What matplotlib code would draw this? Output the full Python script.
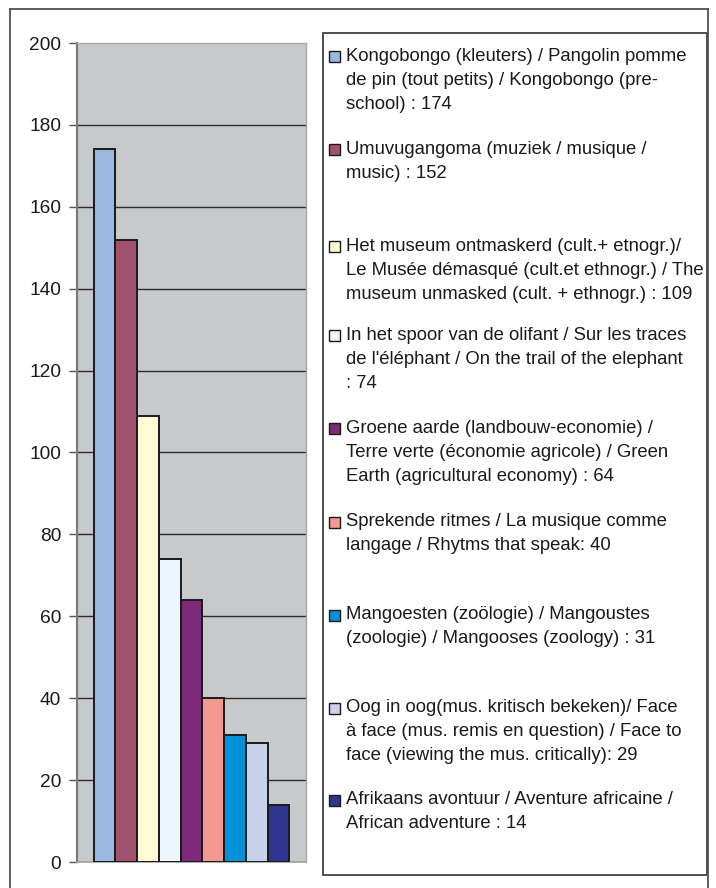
import matplotlib
matplotlib.use("Agg")
import matplotlib.pyplot as plt
from matplotlib.patches import Rectangle
from matplotlib.lines import Line2D

plt.rcParams['font.family'] = ['Liberation Sans', 'DejaVu Sans']

# data
labels = [
    "Kongobongo (kleuters) / Pangolin pomme\nde pin (tout petits) / Kongobongo (pre-\nschool) : 174",
    "Umuvugangoma (muziek / musique /\nmusic) : 152",
    "Het museum ontmaskerd (cult.+ etnogr.)/\nLe Musée démasqué (cult.et ethnogr.) / The\nmuseum unmasked (cult. + ethnogr.) : 109",
    "In het spoor van de olifant / Sur les traces\nde l'éléphant / On the trail of the elephant\n: 74",
    "Groene aarde (landbouw-economie) /\nTerre verte (économie agricole) / Green\nEarth (agricultural economy) : 64",
    "Sprekende ritmes / La musique comme\nlangage / Rhytms that speak: 40",
    "Mangoesten (zoölogie) / Mangoustes\n(zoologie) / Mangooses (zoology) : 31",
    "Oog in oog(mus. kritisch bekeken)/ Face\nà face (mus. remis en question) / Face to\nface (viewing the mus. critically): 29",
    "Afrikaans avontuur / Aventure africaine /\nAfrican adventure : 14",
]
values = [174, 152, 109, 74, 64, 40, 31, 29, 14]
colors = ["#99B9E2", "#A2526F", "#FFFBD5", "#EBF6FD", "#7D2A78",
          "#F4998F", "#0091D6", "#C8D3EB", "#2F3590"]
yticks = [0, 20, 40, 60, 80, 100, 120, 140, 160, 180, 200]

W, H = 716, 888
fig = plt.figure(figsize=(W / 100, H / 100), dpi=100)

def fx(px):
    return px / W

def fy(py):
    return 1 - py / H

# plot area
ax = fig.add_axes([fx(77), fy(862), fx(306) - fx(77), fy(43) - fy(862)])
ax.set_facecolor("#C8C9CB")
xs = list(range(len(values)))
ax.bar(xs, values, width=1.0, color=colors, edgecolor="#1a1a1a", linewidth=1.4, zorder=3)
ax.set_xlim(-0.5 - 0.77, len(values) - 0.5 + 0.77)
ax.set_ylim(0, 200)
ax.set_yticks(yticks)
ax.set_xticks([])
for t in yticks[1:-1]:
    ax.axhline(t, color="#2a2a2a", linewidth=1.0, zorder=1)
ax.tick_params(axis='y', length=5.5, width=1.0, color="#555555", pad=6,
               labelsize=13.8, labelcolor="#1a1a1a")
for s in ["top", "right"]:
    ax.spines[s].set_color("#a8a8a8")
    ax.spines[s].set_linewidth(1.0)
ax.spines["left"].set_color("#7a7a7a")
ax.spines["left"].set_linewidth(1.6)
ax.spines["bottom"].set_color("#a0a0a0")
ax.spines["bottom"].set_linewidth(1.2)

# outer chart border
fig.add_artist(Line2D([fx(10), fx(10)], [fy(9), 0], transform=fig.transFigure,
                      color="#505050", linewidth=1.3))
fig.add_artist(Line2D([fx(10), fx(707.5)], [fy(9), fy(9)], transform=fig.transFigure,
                      color="#505050", linewidth=1.3))
fig.add_artist(Line2D([fx(707.5), fx(707.5)], [fy(9), 0], transform=fig.transFigure,
                      color="#505050", linewidth=1.3))

# legend box
fig.add_artist(Rectangle((fx(323), fy(875)), fx(707) - fx(323), fy(33) - fy(875),
                         transform=fig.transFigure, facecolor="white",
                         edgecolor="#303030", linewidth=1.2))

entry_y = [57, 150, 247, 336, 429, 522, 615, 708, 800]
for lab, col, ey in zip(labels, colors, entry_y):
    fig.add_artist(Rectangle((fx(329), fy(ey + 5.5)), fx(11), 11 / H,
                             transform=fig.transFigure, facecolor=col,
                             edgecolor="#1a1a1a", linewidth=1.0))
    fig.text(fx(346), fy(ey - 9), lab, ha="left", va="top", fontsize=13.3,
             color="#1a1a1a", linespacing=1.55)

fig.savefig("out.png", dpi=100)
